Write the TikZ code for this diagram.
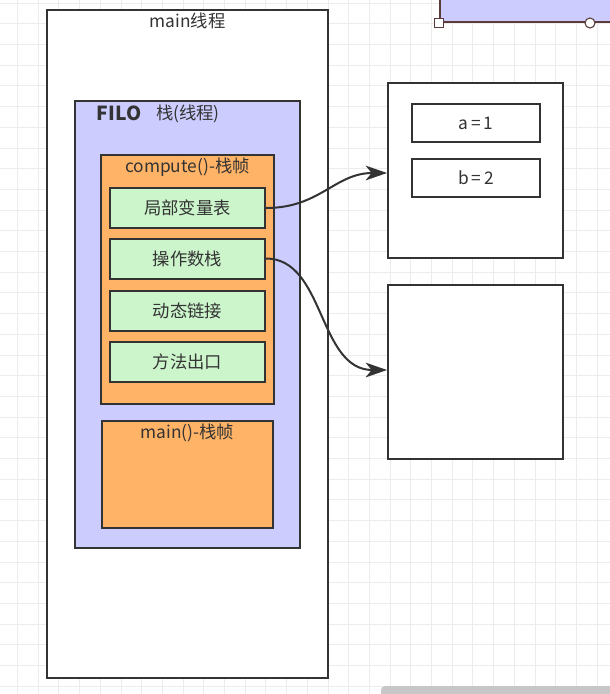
\documentclass[tikz,border=0pt]{standalone}
\usepackage{fontspec}
\setmainfont{Noto Sans CJK SC}
\usetikzlibrary{arrows.meta,calc}
\definecolor{ink}{HTML}{333333}
\definecolor{gridc}{HTML}{ECECEC}
\definecolor{purp}{HTML}{CCCCFF}
\definecolor{oran}{HTML}{FFB366}
\definecolor{grn}{HTML}{CCF5CC}
\definecolor{selc}{HTML}{5A3A3A}
\tikzset{
  bigtip/.tip={Stealth[length=16pt, width=11pt, inset=4.5pt]},
  boxstyle/.style={draw=ink, line width=1.5pt, rectangle, inner sep=0pt, text=ink, font=\fontsize{13}{15}\selectfont},
  titletext/.style={text=ink, font=\fontsize{13}{15}\selectfont, inner sep=0pt},
  conn/.style={draw=ink, line width=1.5pt, arrows={-bigtip}},
}
\begin{document}
\begin{tikzpicture}[x=0.75pt,y=-0.75pt]
\useasboundingbox (0,0) rectangle (610,694);
\clip (0,0) rectangle (610,694);
\fill[white] (0,0) rectangle (610,694);
% grid
\foreach \i in {0,...,30} {
  \draw[gridc, line width=0.6pt] ({-3.3+\i*20.7},0) -- ({-3.3+\i*20.7},694);
}
\foreach \j in {0,...,34} {
  \draw[gridc, line width=0.6pt] (0,{3+\j*20.7}) -- (610,{3+\j*20.7});
}
% top-right selected box
\node[boxstyle, fill=purp, draw=selc, minimum width=200*0.75pt, minimum height=40*0.75pt, anchor=south west] (top) at (439,23) {};
\node[draw=selc, fill=white, line width=0.8pt, minimum size=9*0.75pt, inner sep=0pt] (h1) at (top.south west) {};
\node[draw=selc, fill=white, line width=0.8pt, circle, minimum size=10*0.75pt, inner sep=0pt] (h2) at (590,23) {};
% main thread box
\node[boxstyle, fill=white, minimum width=281*0.75pt, minimum height=668*0.75pt] (main) at (187.5,344) {};
\node[titletext] (maint) at ($(main.north)+(0,12)$) {main线程};
% stack
\node[boxstyle, fill=purp, minimum width=225*0.75pt, minimum height=447*0.75pt] (stack) at (187.5,324.5) {};
\node[text=ink, inner sep=0pt, font=\bfseries\fontsize{14.5}{16}\selectfont] (filo) at (119,113) {FILO};
\node[titletext] (stackt) at (188,114) {栈(线程)};
% compute frame
\node[boxstyle, fill=oran, minimum width=173*0.75pt, minimum height=249*0.75pt] (comp) at (187.5,279.5) {};
\node[titletext] (compt) at ($(comp.north)+(0,13)$) {compute()-栈帧};
\node[boxstyle, fill=grn, minimum width=155*0.75pt, minimum height=40*0.75pt] (lv) at (187.5,208) {局部变量表};
\node[boxstyle, fill=grn, minimum width=155*0.75pt, minimum height=40*0.75pt] (os) at (187.5,258.5) {操作数栈};
\node[boxstyle, fill=grn, minimum width=155*0.75pt, minimum height=40*0.75pt] (dl) at (187.5,310.5) {动态链接};
\node[boxstyle, fill=grn, minimum width=155*0.75pt, minimum height=40*0.75pt] (me) at (187.5,361.5) {方法出口};
% main frame
\node[boxstyle, fill=oran, minimum width=171*0.75pt, minimum height=107*0.75pt] (mf) at (187.5,474.5) {};
\node[titletext] (mft) at ($(mf.north)+(0,13)$) {main()-栈帧};
% right boxes
\node[boxstyle, fill=white, minimum width=175*0.75pt, minimum height=175*0.75pt] (r1) at (475.5,170.5) {};
\node[boxstyle, fill=white, minimum width=128*0.75pt, minimum height=38*0.75pt] (a) at (476,123) {a\,=\,1};
\node[boxstyle, fill=white, minimum width=128*0.75pt, minimum height=38*0.75pt] (b) at (476,178) {b\,=\,2};
\node[boxstyle, fill=white, minimum width=175*0.75pt, minimum height=174*0.75pt] (r2) at (475.5,372) {};
% connectors
\draw[conn] (lv.east) .. controls (320,208) and (335,173) .. ($(r1.west)+(0,2.5)$);
\draw[conn] (os.east) .. controls (325,258.5) and (318,370) .. ($(r2.west)+(0,-2)$);
% scrollbar
\fill[black!22, rounded corners=4*0.75pt] (381,686) rectangle (640,702);
\end{tikzpicture}
\end{document}
